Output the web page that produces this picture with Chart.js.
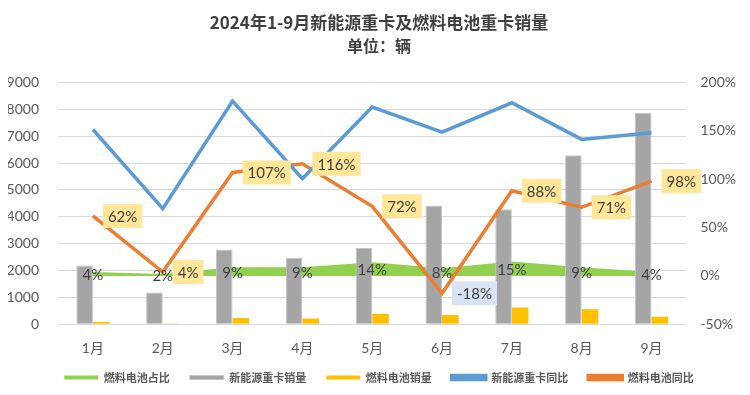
<!DOCTYPE html>
<html>
<head>
<meta charset="utf-8">
<script src="https://cdn.jsdelivr.net/npm/chart.js@4.4.1/dist/chart.umd.min.js"></script>
<style>
  body { margin: 0; background: #fff; }
  #wrap { width: 750px; height: 395px; position: relative; }
</style>
</head>
<body>
<div id="wrap"><canvas id="chart" width="750" height="395"></canvas></div>
<script>
const months = ['1月', '2月', '3月', '4月', '5月', '6月', '7月', '8月', '9月'];
const nevSales = [2190, 1180, 2780, 2480, 2840, 4420, 4280, 6290, 7865];   // 新能源重卡销量
const fcSales = [80, 24, 235, 210, 385, 340, 620, 555, 280];             // 燃料电池销量
const fcShare = [4, 2, 9, 9, 14, 8, 15, 9, 4];                            // 燃料电池占比 %
const nevYoY = [151.5, 69.6, 180.8, 100.6, 174.6, 148.7, 179.1, 141.2, 148.1]; // 新能源重卡同比 %
const fcYoY = [62, 4, 107, 116, 72, -18, 88, 71, 98];                     // 燃料电池同比 %

const labelFont = '15px Lato, "Noto Sans CJK SC", sans-serif';

// data labels drawn by hand (no datalabels plugin available)
const labelPlugin = {
  id: 'labels',
  afterLayout(chart) {
    // pull the legend row up a bit, closer to the month labels
    chart.legend.top -= 13;
    chart.legend.bottom -= 13;
  },
  afterDatasetsDraw(chart) {
    const ctx = chart.ctx;
    const y1 = chart.scales.y1;
    ctx.save();
    ctx.font = labelFont;
    ctx.textAlign = 'center';
    ctx.textBaseline = 'middle';

    // share labels, centred inside the area
    chart.getDatasetMeta(0).data.forEach((pt, i) => {
      const y = y1.getPixelForValue(fcShare[i] / 2) + 1.5;
      ctx.fillStyle = '#404040';
      ctx.fillText(fcShare[i] + '%', pt.x, y);
    });

    // yoy labels for fuel cell, boxed, right of the point
    chart.getDatasetMeta(4).data.forEach((pt, i) => {
      const txt = fcYoY[i] + '%';
      const w = ctx.measureText(txt).width + 10;
      const h = 24;
      const x = pt.x + 10;
      ctx.fillStyle = fcYoY[i] < 0 ? '#DAE3F3' : '#FFE699';
      ctx.fillRect(x, pt.y - h / 2, w, h);
      ctx.fillStyle = '#404040';
      ctx.fillText(txt, x + w / 2, pt.y + 1);
    });
    ctx.restore();
  }
};

new Chart(document.getElementById('chart').getContext('2d'), {
  type: 'bar',
  data: {
    labels: months,
    datasets: [
      {
        type: 'line',
        label: '燃料电池占比',
        data: fcShare,
        yAxisID: 'y1',
        borderColor: '#92D050',
        backgroundColor: '#92D050',
        borderWidth: 0,
        pointRadius: 0,
        fill: 'origin',
        tension: 0,
        order: 5
      },
      {
        label: '新能源重卡销量',
        data: nevSales,
        yAxisID: 'y',
        backgroundColor: '#A5A5A5',
        borderColor: '#C4C4C4',
        borderWidth: 1,
        order: 3
      },
      {
        label: '燃料电池销量',
        data: fcSales,
        yAxisID: 'y',
        backgroundColor: '#FFC000',
        borderWidth: 0,
        order: 3
      },
      {
        type: 'line',
        label: '新能源重卡同比',
        data: nevYoY,
        yAxisID: 'y1',
        borderColor: '#5B9BD5',
        backgroundColor: '#5B9BD5',
        borderWidth: 3.5,
        pointRadius: 0,
        tension: 0,
        order: 1
      },
      {
        type: 'line',
        label: '燃料电池同比',
        data: fcYoY,
        yAxisID: 'y1',
        borderColor: '#ED7D31',
        backgroundColor: '#ED7D31',
        borderWidth: 3.5,
        pointRadius: 0,
        tension: 0,
        order: 1
      }
    ]
  },
  options: {
    responsive: false,
    animation: false,
    devicePixelRatio: 1,
    layout: { padding: { left: 8, right: 0, bottom: -11 } },
    datasets: {
      bar: { categoryPercentage: 0.475, barPercentage: 1 }
    },
    plugins: {
      title: {
        display: true,
        text: '2024年1-9月新能源重卡及燃料电池重卡销量',
        color: '#404040',
        font: { family: '"Noto Sans CJK SC", sans-serif', size: 17, weight: 'bold' },
        padding: { top: 12, bottom: 4 }
      },
      subtitle: {
        display: true,
        text: '单位：辆',
        color: '#404040',
        font: { family: '"Noto Sans CJK SC", sans-serif', size: 16, weight: 'bold' },
        padding: { top: 0, bottom: 27 }
      },
      legend: {
        position: 'bottom',
        labels: {
          boxWidth: 34,
          boxHeight: 4,
          padding: 20,
          color: '#595959',
          font: { family: '"Noto Sans CJK SC", sans-serif', size: 11, weight: 'bold' },
          sort: (a, b) => a.datasetIndex - b.datasetIndex
        }
      },
      tooltip: { enabled: false }
    },
    scales: {
      x: {
        grid: { display: false },
        border: { color: '#D9D9D9' },
        ticks: {
          color: '#595959',
          font: { family: 'Lato, "Noto Sans CJK SC", sans-serif', size: 14 },
          padding: 8
        }
      },
      y: {
        position: 'left',
        min: 0,
        max: 9000,
        ticks: {
          stepSize: 1000,
          color: '#595959',
          font: { family: 'Lato, sans-serif', size: 14 },
          padding: 19,
          callback: v => String(v)
        },
        grid: { color: '#D9D9D9', drawTicks: false },
        border: { display: false },
        afterFit: scale => { scale.width = 50; }
      },
      y1: {
        position: 'right',
        min: -50,
        max: 200,
        ticks: {
          stepSize: 50,
          color: '#595959',
          font: { family: 'Lato, sans-serif', size: 14 },
          padding: 14,
          callback: v => v + '%'
        },
        grid: { display: false, drawTicks: false },
        border: { display: false }
      }
    }
  },
  plugins: [labelPlugin]
});
</script>
</body>
</html>
